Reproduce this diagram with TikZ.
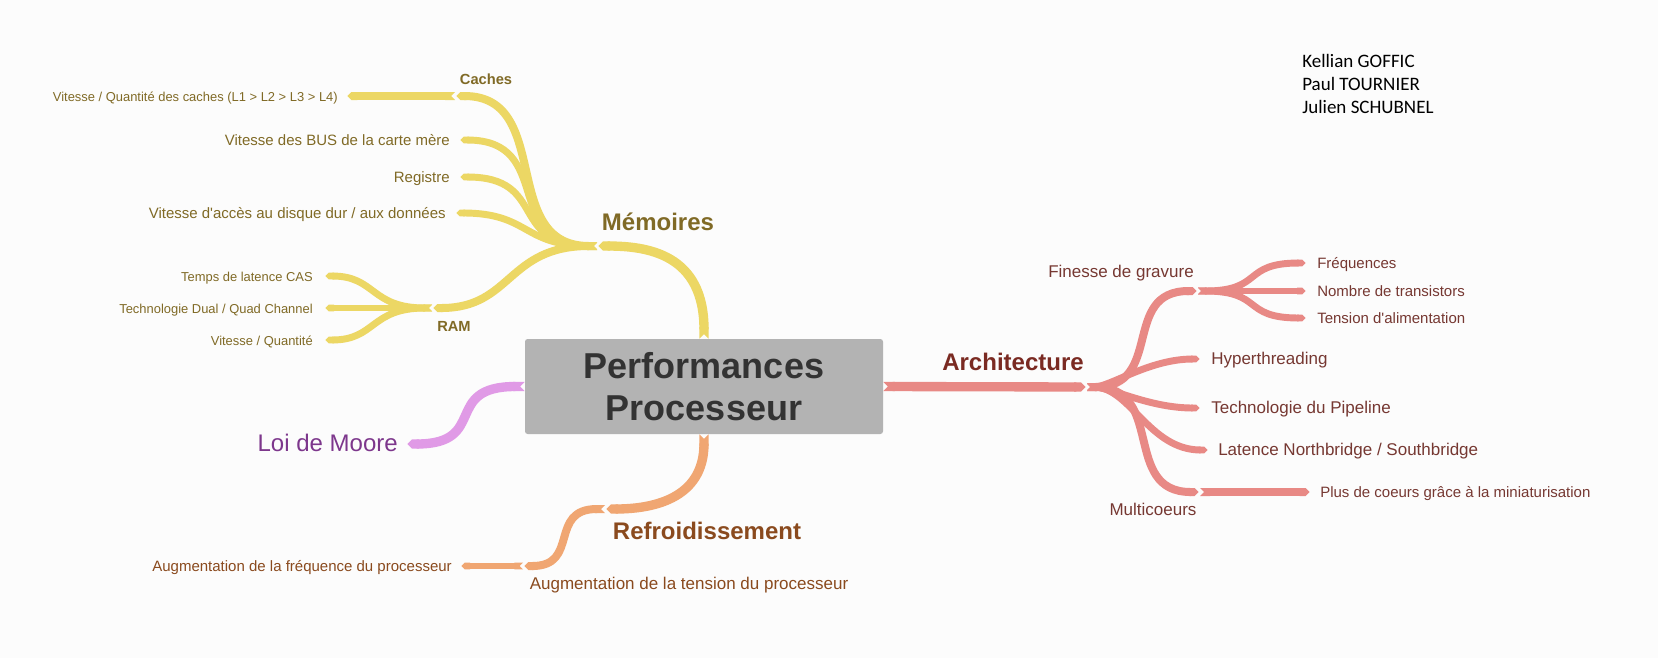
\documentclass[tikz,border=0pt]{standalone}
\usepackage{fontspec}
\setmainfont{Liberation Sans}
\newfontfamily\namesfont{Carlito}
\usetikzlibrary{arrows.meta}

\definecolor{bgpaper}{RGB}{252,252,252}
\definecolor{memline}{RGB}{236,215,100}
\definecolor{memtext}{RGB}{128,106,38}
\definecolor{archline}{RGB}{232,137,133}
\definecolor{archtext}{RGB}{122,42,34}
\definecolor{archleaf}{RGB}{118,56,50}
\definecolor{refline}{RGB}{240,166,114}
\definecolor{reftext}{RGB}{138,74,30}
\definecolor{mooreline}{RGB}{224,154,230}
\definecolor{mooretext}{RGB}{125,55,140}
\definecolor{boxfill}{RGB}{179,179,179}
\definecolor{boxtext}{RGB}{51,51,51}

\tikzset{
	txt/.style={inner sep=0pt, text height=0.78em, text depth=0pt},
	branch/.style={line width=#1, shorten >=1pt, {Triangle Cap[reversed]}-{Triangle Cap}},
	mainbr/.style={branch=7pt},
	subbr/.style={branch=6pt},
	leafbr/.style={branch=5.2pt},
	topic/.style={txt, text height=1.05em, font=\bfseries\fontsize{18}{21}\selectfont},
	memsmall/.style={txt, text=memtext, font=\fontsize{9.7}{11.6}\selectfont},
	memleaf/.style={txt, text=memtext, font=\fontsize{11.25}{13.5}\selectfont},
	memsub/.style={txt, text=memtext, font=\bfseries\fontsize{11}{13}\selectfont},
	archmid/.style={txt, text=archleaf, font=\fontsize{12.75}{15}\selectfont},
	archsmall/.style={txt, text=archleaf, font=\fontsize{11.25}{13.5}\selectfont},
	refmid/.style={txt, text=reftext, font=\fontsize{12.75}{15}\selectfont},
	refsmall/.style={txt, text=reftext, font=\fontsize{11.25}{13.5}\selectfont},
}

\begin{document}
\begin{tikzpicture}[x=0.75pt, y=-0.75pt]
	\fill[bgpaper] (0,0) rectangle (1658,658);

	\node[fill=boxfill, rounded corners=2pt, inner sep=0pt, minimum width=268.5pt, minimum height=71.25pt,
		align=center, text=boxtext, font=\bfseries\fontsize{27}{31.5}\selectfont] (perf) at (704,386.5) {Performances\\Processeur};

	% junctions and tips
	\coordinate (memJ) at (597,246);
	\coordinate (cachesJ) at (455,96);
	\coordinate (cachesTip) at (346,96);
	\coordinate (busTip) at (459,140);
	\coordinate (regTip) at (459,177);
	\coordinate (disqueTip) at (455,213);
	\coordinate (ramJ) at (432,308);
	\coordinate (casTip) at (324,276);
	\coordinate (dualTip) at (324,308);
	\coordinate (vqTip) at (324,340);
	\coordinate (mooreTip) at (406,444);
	\coordinate (refJ) at (605,509);
	\coordinate (tensionJ) at (523,566);
	\coordinate (freqTip) at (460,566);
	\coordinate (archJ) at (1087,387);
	\coordinate (finesseJ) at (1198,291);
	\coordinate (frqTip) at (1307,263);
	\coordinate (nbTip) at (1307,291);
	\coordinate (tensTip) at (1307,318);
	\coordinate (hyperTip) at (1201,359);
	\coordinate (pipeTip) at (1201,408);
	\coordinate (latTip) at (1209,450);
	\coordinate (multiJ) at (1200,492);
	\coordinate (plusTip) at (1311,492);

	% Memoires
	\draw[memline, mainbr] (perf.north) .. controls +(0,-85) and +(50,0) .. (memJ);
	\draw[memline, subbr] (memJ) .. controls +(-99,0) and +(99,0) .. (cachesJ);
	\draw[memline, subbr] (cachesJ) -- (cachesTip);
	\draw[memline, leafbr] (memJ) .. controls +(-97,0) and +(97,0) .. (busTip);
	\draw[memline, leafbr] (memJ) .. controls +(-90,0) and +(90,0) .. (regTip);
	\draw[memline, leafbr] (memJ) .. controls +(-75,0) and +(75,0) .. (disqueTip);
	\draw[memline, subbr] (memJ) .. controls +(-90,0) and +(80,0) .. (ramJ);
	\draw[memline, leafbr] (ramJ) .. controls +(-62,0) and +(52,0) .. (casTip);
	\draw[memline, leafbr] (ramJ) -- (dualTip);
	\draw[memline, leafbr] (ramJ) .. controls +(-62,0) and +(52,0) .. (vqTip);

	% Loi de Moore
	\draw[mooreline, mainbr] (perf.west) .. controls +(-83,0) and +(83,0) .. (mooreTip);

	% Refroidissement
	\draw[refline, mainbr] (perf.south) .. controls +(0,66) and +(45,0) .. (refJ);
	\draw[refline, subbr] (refJ) .. controls +(-57,0) and +(57,0) .. (tensionJ);
	\draw[refline, leafbr] (tensionJ) -- (freqTip);

	% Architecture
	\draw[archline, mainbr] (perf.east) -- (archJ);
	\draw[archline, subbr] (archJ) .. controls +(78,0) and +(-78,0) .. (finesseJ);
	\draw[archline, leafbr] (finesseJ) .. controls +(66,0) and +(-66,0) .. (frqTip);
	\draw[archline, leafbr] (finesseJ) -- (nbTip);
	\draw[archline, leafbr] (finesseJ) .. controls +(66,0) and +(-66,0) .. (tensTip);
	\draw[archline, leafbr] (archJ) .. controls +(23,0) and +(-52,0) .. (hyperTip);
	\draw[archline, leafbr] (archJ) .. controls +(23,0) and +(-52,0) .. (pipeTip);
	\draw[archline, leafbr] (archJ) .. controls +(43,0) and +(-60,0) .. (latTip);
	\draw[archline, subbr] (archJ) .. controls +(79,0) and +(-79,0) .. (multiJ);
	\draw[archline, subbr] (multiJ) -- (plusTip);

	% labels
	\node[topic, text=memtext] (mem) at (658,223) {Mémoires};
	\node[memsub] (caches) at (486,79) {Caches};
	\node[memsmall, anchor=east] (cachesQ) at (338,96) {Vitesse / Quantité des caches (L1 > L2 > L3 > L4)};
	\node[memleaf, anchor=east] (bus) at (450,140) {Vitesse des BUS de la carte mère};
	\node[memleaf, anchor=east] (reg) at (450,177) {Registre};
	\node[memleaf, anchor=east] (disque) at (446,213) {Vitesse d\textquotesingle accès au disque dur / aux données};
	\node[memsub] (ram) at (454,326) {RAM};
	\node[memsmall, anchor=east] (cas) at (313,276) {Temps de latence CAS};
	\node[memsmall, anchor=east] (dual) at (313,308) {Technologie Dual / Quad Channel};
	\node[memsmall, anchor=east] (vq) at (313,340) {Vitesse / Quantité};

	\node[txt, text height=1.05em, text=mooretext, font=\fontsize{18}{21}\selectfont, anchor=east] (moore) at (398,444) {Loi de Moore};

	\node[topic, text=reftext] (refr) at (707,532) {Refroidissement};
	\node[refmid] (augT) at (689,584) {Augmentation de la tension du processeur};
	\node[refsmall, anchor=east] (augF) at (452,566) {Augmentation de la fréquence du processeur};

	\node[topic, text=archtext] (arch) at (1013,363) {Architecture};
	\node[archmid] (finesse) at (1121,272) {Finesse de gravure};
	\node[archsmall, anchor=west] (frq) at (1317,263) {Fréquences};
	\node[archsmall, anchor=west] (nb) at (1317,291) {Nombre de transistors};
	\node[archsmall, anchor=west] (tens) at (1317,318) {Tension d\textquotesingle alimentation};
	\node[archmid, anchor=west] (hyper) at (1211,359) {Hyperthreading};
	\node[archmid, anchor=west] (pipe) at (1211,408) {Technologie du Pipeline};
	\node[archmid, anchor=west] (lat) at (1218,450) {Latence Northbridge / Southbridge};
	\node[archmid] (multi) at (1153,510) {Multicoeurs};
	\node[archsmall, anchor=west] (plus) at (1320,492) {Plus de coeurs grâce à la miniaturisation};

	\node[anchor=north west, align=left, inner sep=0pt, font=\namesfont\fontsize{14.25}{17.25}\selectfont] (authors) at (1302,54) {Kellian GOFFIC\\Paul TOURNIER\\Julien SCHUBNEL};
\end{tikzpicture}
\end{document}
